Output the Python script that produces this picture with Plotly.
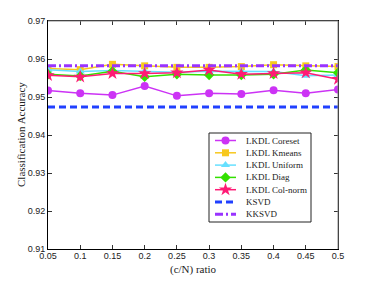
import plotly.graph_objects as go

ratios = [0.05, 0.1, 0.15, 0.2, 0.25, 0.3, 0.35, 0.4, 0.45, 0.5]
x_ticktext = ["0.05", "0.1", "0.15", "0.2", "0.25", "0.3", "0.35", "0.4", "0.45", "0.5"]

coreset = [0.9517, 0.9510, 0.9505, 0.9529, 0.9503, 0.9510, 0.9508, 0.9518, 0.9510, 0.9520]
kmeans = [0.9575, 0.9572, 0.9586, 0.9582, 0.9578, 0.9578, 0.9580, 0.9585, 0.9582, 0.9580]
uniform = [0.9572, 0.9567, 0.9570, 0.9568, 0.9565, 0.9568, 0.9568, 0.9567, 0.9556, 0.9558]
diag = [0.9560, 0.9555, 0.9568, 0.9553, 0.9560, 0.9558, 0.9558, 0.9560, 0.9571, 0.9564]
colnorm = [0.9557, 0.9553, 0.9562, 0.9562, 0.9564, 0.9571, 0.9560, 0.9562, 0.9564, 0.9547]
ksvd = [0.9474] * 10
kksvd = [0.9582] * 10

y_ticks = [0.91, 0.92, 0.93, 0.94, 0.95, 0.96, 0.97]

x_title = "(c/N) ratio"
y_title = "Classification Accuracy"

# target pixel geometry (window coordinates) of the plot area
PL, PR, PT, PB = 48, 338, 21, 249
WIN_W, WIN_H = 374, 281
OFF = 8  # the page body adds an 8px margin around the figure
W, H = WIN_W - OFF, WIN_H - OFF

series = [
    dict(name="LKDL Coreset", y=coreset, color="#CC33F5", symbol="circle", dash="solid", width=1.5, ms=8),
    dict(name="LKDL Kmeans", y=kmeans, color="#F7C81E", symbol="square", dash="solid", width=1.5, ms=7),
    dict(name="LKDL Uniform", y=uniform, color="#66E0FF", symbol="triangle-up", dash="solid", width=1.5, ms=8),
    dict(name="LKDL Diag", y=diag, color="#33E000", symbol="diamond", dash="solid", width=1.5, ms=8),
    dict(name="LKDL Col-norm", y=colnorm, color="#FF1A75", symbol="star", dash="solid", width=1.5, ms=10),
    dict(name="KSVD", y=ksvd, color="#2040FF", symbol=None, dash="7px,4px", width=3, ms=0),
    dict(name="KKSVD", y=kksvd, color="#9933FF", symbol=None, dash="8px,3px,2px,3px", width=3, ms=0),
]

serif = "Liberation Serif, Times New Roman"

fig = go.Figure()
for s in series:
    if s["symbol"]:
        fig.add_trace(go.Scatter(
            x=ratios, y=s["y"], name=s["name"], mode="lines+markers",
            line=dict(color=s["color"], width=s["width"], dash=s["dash"]),
            marker=dict(symbol=s["symbol"], size=s["ms"], color=s["color"], line=dict(width=0)),
            showlegend=False,
        ))
    else:
        fig.add_trace(go.Scatter(
            x=ratios, y=s["y"], name=s["name"], mode="lines",
            line=dict(color=s["color"], width=s["width"], dash=s["dash"]),
            showlegend=False,
        ))

# ---- hand-drawn legend on an overlay axis measured in window pixels ----
LX0, LX1, LY0, LY1 = 209, 311, 133, 222
fig.add_trace(go.Scatter(
    x=[LX0, LX1, LX1, LX0, LX0], y=[LY0, LY0, LY1, LY1, LY0],
    mode="lines", fill="toself", fillcolor="white",
    line=dict(color="#222", width=1), xaxis="x2", yaxis="y2",
    showlegend=False, hoverinfo="skip",
))
entry_y0, entry_dy = 140.5, 12.3
for i, s in enumerate(series):
    ey = entry_y0 + i * entry_dy
    fig.add_trace(go.Scatter(
        x=[215, 236], y=[ey, ey], mode="lines",
        line=dict(color=s["color"], width=s["width"], dash=s["dash"]),
        xaxis="x2", yaxis="y2", showlegend=False, hoverinfo="skip",
    ))
    if s["symbol"]:
        fig.add_trace(go.Scatter(
            x=[225.5], y=[ey], mode="markers",
            marker=dict(symbol=s["symbol"], size=s["ms"], color=s["color"], line=dict(width=0)),
            xaxis="x2", yaxis="y2", showlegend=False, hoverinfo="skip",
        ))
    fig.add_annotation(
        x=244, y=ey, xref="x2", yref="y2", text=s["name"], showarrow=False,
        xanchor="left", yanchor="middle",
        font=dict(family=serif, size=9, color="#222"),
    )

# axis titles
fig.add_annotation(
    x=(193 - PL) / (PR - PL), y=-(269 - PB) / (PB - PT), xref="paper", yref="paper",
    text=x_title, showarrow=False, xanchor="center", yanchor="middle",
    font=dict(family=serif, size=11, color="#222"),
)
fig.add_annotation(
    x=-(PL - 21) / (PR - PL), y=(PB - 135) / (PB - PT), xref="paper", yref="paper",
    text=y_title, showarrow=False, xanchor="center", yanchor="middle", textangle=-90,
    font=dict(family=serif, size=11, color="#222"),
)

# lighter top / right box edges
fig.add_shape(type="line", xref="paper", yref="paper", x0=0, x1=1, y0=1, y1=1,
              line=dict(color="#8a8a8a", width=1), layer="above")
fig.add_shape(type="line", xref="paper", yref="paper", x0=1, x1=1, y0=0, y1=1,
              line=dict(color="#8a8a8a", width=1), layer="above")

axis_common = dict(
    showline=True, linecolor="black", linewidth=1, mirror="ticks",
    ticks="inside", ticklen=4, tickcolor="#333", showgrid=False, zeroline=False,
    automargin=False,
    tickfont=dict(family="Liberation Sans, Arial", size=9, color="#222"),
)

fig.update_layout(
    width=W, height=H,
    margin=dict(l=PL - OFF, r=WIN_W - PR, t=PT - OFF, b=WIN_H - PB),
    paper_bgcolor="white", plot_bgcolor="white",
    xaxis=dict(range=[0.05, 0.5], tickvals=ratios, ticktext=x_ticktext,
               ticklabelstandoff=-2, **axis_common),
    yaxis=dict(range=[0.91, 0.97], tickvals=y_ticks, tickformat=".2f",
               **axis_common),
    xaxis2=dict(overlaying="x", range=[PL, PR], visible=False, fixedrange=True),
    yaxis2=dict(overlaying="y", range=[PB, PT], visible=False, fixedrange=True),
    showlegend=False,
)

fig.write_html("out.html")
